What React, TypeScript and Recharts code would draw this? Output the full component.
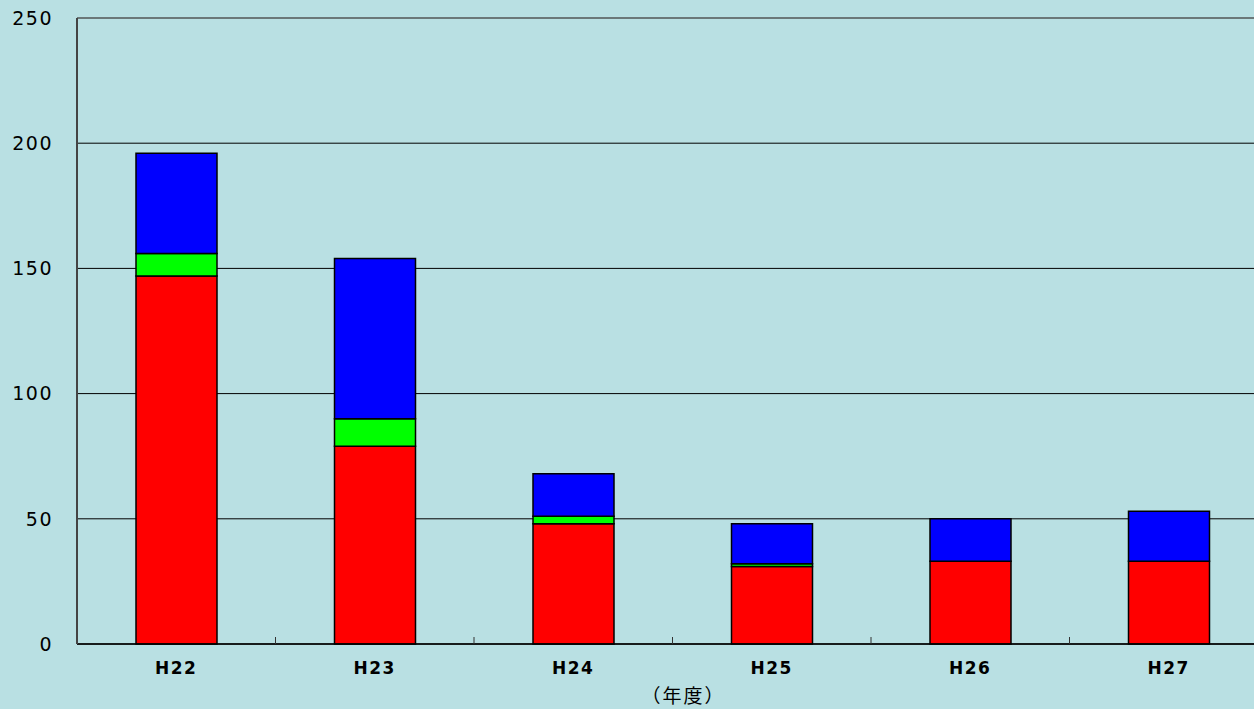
import React from 'react';
import { BarChart, Bar, XAxis, YAxis, CartesianGrid, ReferenceLine, Label } from 'recharts';

const years = ['H22', 'H23', 'H24', 'H25', 'H26', 'H27'];
const redValues = [147, 79, 48, 31, 33, 33];
const greenValues = [9, 11, 3, 1, 0, 0];
const blueValues = [40, 64, 17, 16, 17, 20];
const yTicks = [0, 50, 100, 150, 200, 250];

const BG = '#b9e0e3';
const FONT = '"DejaVu Sans", "Noto Sans CJK JP", sans-serif';
const TICK_MARGIN = 18;

const data = years.map((year, i) => ({
  year,
  red: redValues[i],
  green: greenValues[i],
  blue: blueValues[i],
}));

// category label plus the small upward divider mark on the left edge of its band
function YearTick(props: any) {
  const { x, y, payload, index } = props;
  const axisY = y - TICK_MARGIN;
  const half = payload.offset ?? 0;
  return (
    <g>
      {index > 0 && (
        <line x1={x - half} x2={x - half} y1={axisY} y2={axisY - 7} stroke="#333" strokeWidth={1} />
      )}
      <text
        x={x}
        y={y}
        dy="0.71em"
        textAnchor="middle"
        fill="#000"
        fontSize={17}
        fontWeight={700}
        fontFamily={FONT}
        letterSpacing={1.5}
      >
        {payload.value}
      </text>
    </g>
  );
}

export default function App() {
  return (
    <div
      style={{
        position: 'absolute',
        left: 0,
        top: 0,
        width: 1254,
        height: 709,
        overflow: 'hidden',
        background: BG,
      }}
    >
      <BarChart
        width={1268}
        height={709}
        data={data}
        margin={{ top: 18, right: 0, left: 0, bottom: 0 }}
        barSize={81}
      >
        <CartesianGrid vertical={false} stroke="#000" strokeWidth={1} />
        <XAxis
          dataKey="year"
          height={65}
          tickSize={0}
          tickMargin={TICK_MARGIN}
          axisLine={{ stroke: '#000', strokeWidth: 1.5 }}
          tick={<YearTick />}
        >
          <Label
            value="（年度）"
            position="insideBottom"
            offset={6}
            dx={11}
            style={{ fill: '#000', fontSize: 19, letterSpacing: 2, fontFamily: '"Noto Sans CJK JP", sans-serif' }}
          />
        </XAxis>
        <YAxis
          domain={[0, 250]}
          ticks={yTicks}
          width={77}
          tickSize={0}
          tickMargin={24}
          axisLine={{ stroke: '#444', strokeWidth: 2 }}
          tick={{ fill: '#000', fontSize: 19, fontFamily: FONT, letterSpacing: 1.5 }}
        />
        <ReferenceLine y={250} stroke="#6b7879" strokeWidth={2} />
        <Bar dataKey="red" stackId="a" fill="#ff0000" stroke="#000" strokeWidth={1.5} isAnimationActive={false} />
        <Bar dataKey="green" stackId="a" fill="#00ff00" stroke="#000" strokeWidth={1.5} isAnimationActive={false} />
        <Bar dataKey="blue" stackId="a" fill="#0000ff" stroke="#000" strokeWidth={1.5} isAnimationActive={false} />
      </BarChart>
    </div>
  );
}
